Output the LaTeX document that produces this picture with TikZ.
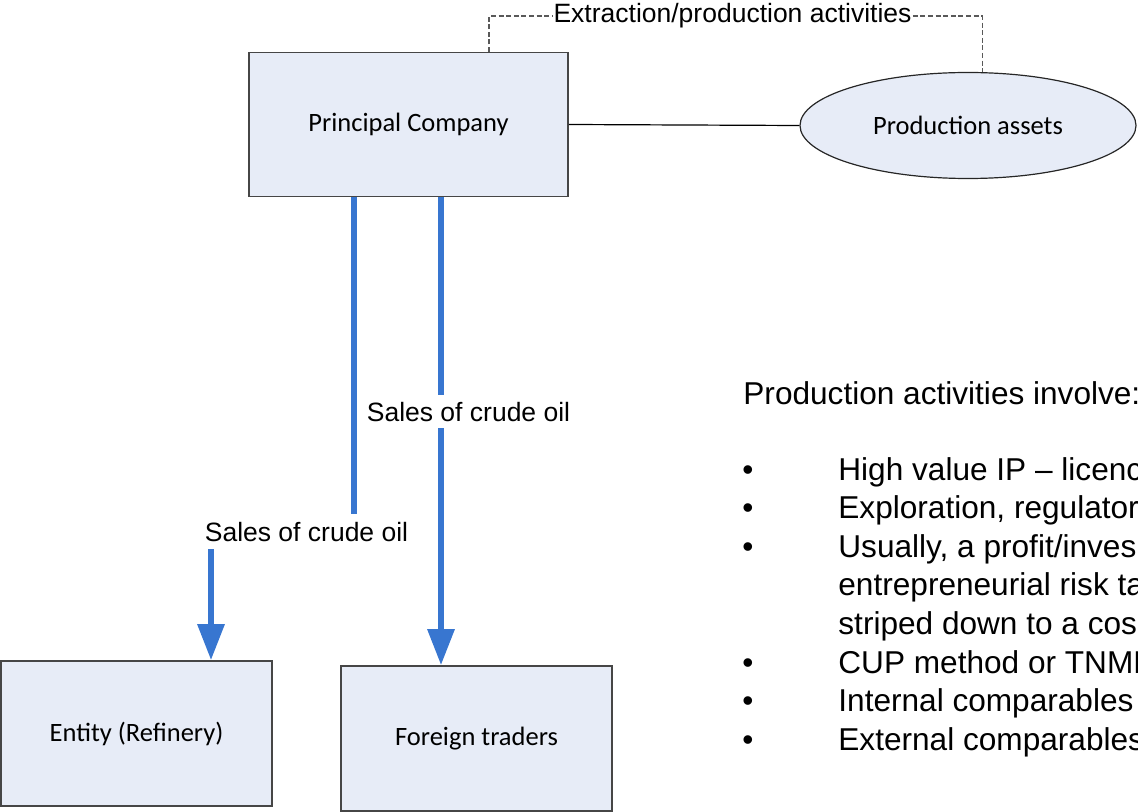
\documentclass[tikz,border=0pt]{standalone}
\usepackage{fontspec}
\setmainfont{Liberation Sans}
\newfontfamily\calib{Carlito}
\usetikzlibrary{shapes.geometric,arrows.meta}
\definecolor{boxfill}{RGB}{231,236,247}
\definecolor{boxline}{RGB}{70,70,70}
\definecolor{flowblue}{RGB}{56,118,208}
\tikzset{
  entbox/.style={draw=boxline, line width=0.8pt, fill=boxfill, inner sep=0pt,
    font=\calib\fontsize{13.25}{16}\selectfont},
  prodell/.style={ellipse, draw=black!85, line width=0.6pt, fill=boxfill, inner sep=0pt,
    font=\calib\fontsize{13.25}{16}\selectfont},
  flow/.style={draw=flowblue, line width=3pt},
  flowarrow/.style={flow, -{Triangle[width=13pt,length=18pt]}},
  lbl/.style={font=\fontsize{13.25}{16}\selectfont, inner xsep=1pt, inner ysep=3.8pt, anchor=base},
  bigtxt/.style={font=\fontsize{15.8}{19}\selectfont, inner sep=0pt, anchor=base west},
  bul/.style={font=\fontsize{15.8}{19}\selectfont, inner sep=0pt, anchor=base},
  dashconn/.style={draw=black!65, dash pattern=on 2.5pt off 1.3pt, line width=0.55pt},
  plainconn/.style={draw=black, line width=0.6pt},
}
\begin{document}
\begin{tikzpicture}[x=0.5pt,y=-0.5pt]
\useasboundingbox (0,0) rectangle (1138,812);

% nodes
\node[entbox, minimum width=159.5pt, minimum height=72pt] (pc) at (408.5,124.5) {Principal Company};
\node[prodell, minimum width=168pt, minimum height=53pt] (pa) at (968,125.5) {Production assets};
\node[entbox, minimum width=135.5pt, minimum height=72.5pt] (ent) at (136.5,733.5) {Entity (Refinery)};
\node[entbox, minimum width=135.5pt, minimum height=72.5pt] (fr) at (476.5,738.5) {Foreign traders};

% top dashed bracket
\node[font=\fontsize{13.25}{16}\selectfont, inner xsep=0.5pt, inner ysep=0pt] (ext) at (732.5,16) {Extraction/production activities};
\coordinate (dl) at (489,52);
\draw[dashconn] (dl) |- (ext.west);
\draw[dashconn] (ext.east) -| (pa.75);

% link company - assets
\draw[plainconn] (pc.east) -- (pa.west);

% flow 1 (to refinery)
\coordinate (x1) at (354,0);
\coordinate (x1b) at (211,0);
\node[lbl] (s1) at (306.5,541) {Sales of crude oil};
\draw[flow] (pc.south -| x1) -- (s1.north -| x1);
\draw[flowarrow] (s1.south -| x1b) -- (ent.north -| x1b);

% flow 2 (to foreign traders)
\coordinate (x2) at (441,0);
\draw[flowarrow] (pc.south -| x2) -- (fr.north -| x2);
\node[lbl, fill=white, inner ysep=3.5pt] (s2) at (468.5,421) {Sales of crude oil};

% text block
\node[bigtxt] (hd) at (743,404) {Production activities involve:};
\node[bul] (b1) at (748,480) {\textbullet};
\node[bigtxt] (t1) at (838,480) {High value IP – licenc};
\node[bul] (b2) at (748,518.6) {\textbullet};
\node[bigtxt] (t2) at (838,518.6) {Exploration, regulator};
\node[bul] (b3) at (748,557.2) {\textbullet};
\node[bigtxt] (t3) at (838,557.2) {Usually, a profit/inves};
\node[bigtxt] (t3b) at (838,595.8) {entrepreneurial risk ta};
\node[bigtxt] (t3c) at (838,634.4) {striped down to a cos};
\node[bul] (b4) at (748,673) {\textbullet};
\node[bigtxt] (t4) at (838,673) {CUP method or TNMM};
\node[bul] (b5) at (748,711.6) {\textbullet};
\node[bigtxt] (t5) at (838,711.6) {Internal comparables};
\node[bul] (b6) at (748,750.2) {\textbullet};
\node[bigtxt] (t6) at (838,750.2) {External comparables};
\end{tikzpicture}
\end{document}
